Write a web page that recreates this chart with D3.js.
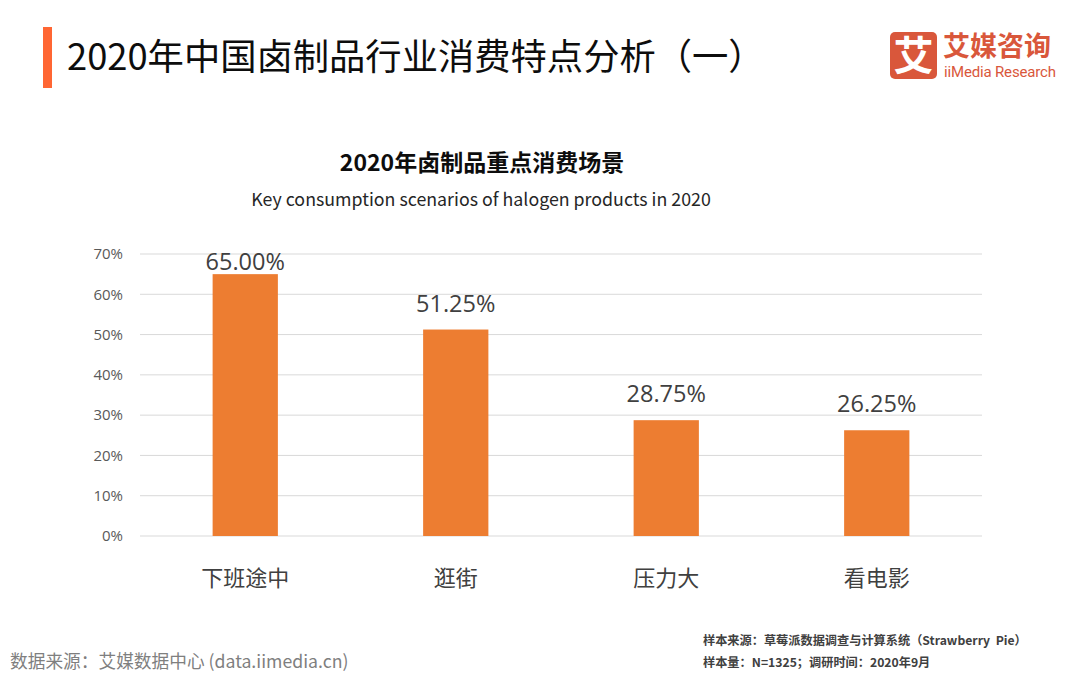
<!DOCTYPE html>
<html><head><meta charset="utf-8">
<script src="https://cdn.jsdelivr.net/npm/d3@7"></script>
<style>body{margin:0;background:#fff}svg{display:block}</style>
</head><body>
<svg id="c" width="1080" height="676"></svg>
<script>
const categories = ["下班途中", "逛街", "压力大", "看电影"];
const values = [65.00, 51.25, 28.75, 26.25];
const yTicks = [0, 10, 20, 30, 40, 50, 60, 70];

const svg = d3.select("#c");
const CJK = "'Noto Sans CJK SC','Noto Sans',sans-serif";
const LAT = "'Open Sans','Noto Sans',sans-serif";

// header
svg.append("rect").attr("x", 43).attr("y", 27).attr("width", 9).attr("height", 61).attr("fill", "#FF6633");
svg.append("text").attr("x", 67).attr("y", 70).attr("font-family", CJK).attr("font-size", 36.3)
  .attr("fill", "#0d0d0d").text("2020年中国卤制品行业消费特点分析（一）");

// logo
const logoC = "#D9573B";
svg.append("rect").attr("x", 890).attr("y", 32).attr("width", 47).attr("height", 47).attr("rx", 5).attr("fill", logoC);
svg.append("text").attr("x", 913.5).attr("y", 70).attr("text-anchor", "middle").attr("font-family", CJK)
  .attr("font-weight", "bold").attr("font-size", 40).attr("fill", "#fff").text("艾");
svg.append("text").attr("x", 943).attr("y", 56).attr("font-family", CJK).attr("font-weight", "bold")
  .attr("font-size", 27).attr("fill", logoC).text("艾媒咨询");
svg.append("text").attr("x", 944).attr("y", 76.5).attr("font-family", "'Roboto','Noto Sans',sans-serif")
  .attr("font-size", 15).attr("fill", logoC).attr("textLength", 112).text("iiMedia Research");

// chart titles
svg.append("text").attr("x", 482).attr("y", 171).attr("text-anchor", "middle").attr("font-family", CJK)
  .attr("font-weight", "bold").attr("font-size", 23).attr("fill", "#0d0d0d").text("2020年卤制品重点消费场景");
svg.append("text").attr("x", 481).attr("y", 206).attr("text-anchor", "middle").attr("font-family", CJK)
  .attr("font-size", 17.8).attr("fill", "#262626").text("Key consumption scenarios of halogen products in 2020");

// scales
const x = d3.scaleBand().domain(categories).range([140, 982]).paddingInner(0.69).paddingOuter(0.345);
const y = d3.scaleLinear().domain([0, 70]).range([536, 254]);

// grid
svg.append("g").selectAll("line").data(yTicks).join("line")
  .attr("x1", 140).attr("x2", 982).attr("y1", d => y(d)).attr("y2", d => y(d))
  .attr("stroke", "#D9D9D9").attr("stroke-width", 1);

// y axis
const yAxis = svg.append("g").attr("transform", "translate(128,0)")
  .call(d3.axisLeft(y).tickValues(yTicks).tickFormat(d => d + "%").tickSize(0).tickPadding(5));
yAxis.select(".domain").remove();
yAxis.selectAll("text").attr("font-family", LAT).attr("font-size", 15).attr("fill", "#595959");

// bars
svg.append("g").selectAll("rect").data(values).join("rect")
  .attr("x", (d, i) => x(categories[i])).attr("width", x.bandwidth())
  .attr("y", d => y(d)).attr("height", d => y(0) - y(d)).attr("fill", "#ED7D31");

// value labels (kept inside the plot area at the top)
svg.append("g").selectAll("text").data(values).join("text")
  .attr("x", (d, i) => x(categories[i]) + x.bandwidth() / 2)
  .attr("y", d => Math.max(y(d) - 18, y(70) + 16))
  .attr("text-anchor", "middle").attr("font-family", LAT).attr("font-size", 23.5).attr("fill", "#404040")
  .text(d => d.toFixed(2) + "%");

// x axis
const xAxis = svg.append("g").attr("transform", "translate(0,536)")
  .call(d3.axisBottom(x).tickSize(0).tickPadding(34));
xAxis.select(".domain").remove();
xAxis.selectAll("text").attr("font-family", CJK).attr("font-size", 22).attr("fill", "#404040");

// footer
svg.append("text").attr("x", 10).attr("y", 668).attr("font-family", CJK).attr("font-size", 17.7)
  .attr("fill", "#7f7f7f").text("数据来源：艾媒数据中心 (data.iimedia.cn)");
svg.append("text").attr("x", 703).attr("y", 645).attr("font-family", CJK).attr("font-weight", "bold")
  .attr("font-size", 12.2).attr("fill", "#404040").text("样本来源：草莓派数据调查与计算系统（Strawberry\u00a0\u00a0Pie）");
svg.append("text").attr("x", 703).attr("y", 667).attr("font-family", CJK).attr("font-weight", "bold")
  .attr("font-size", 12.2).attr("fill", "#404040").text("样本量：N=1325；调研时间：2020年9月");
</script>
</body></html>
